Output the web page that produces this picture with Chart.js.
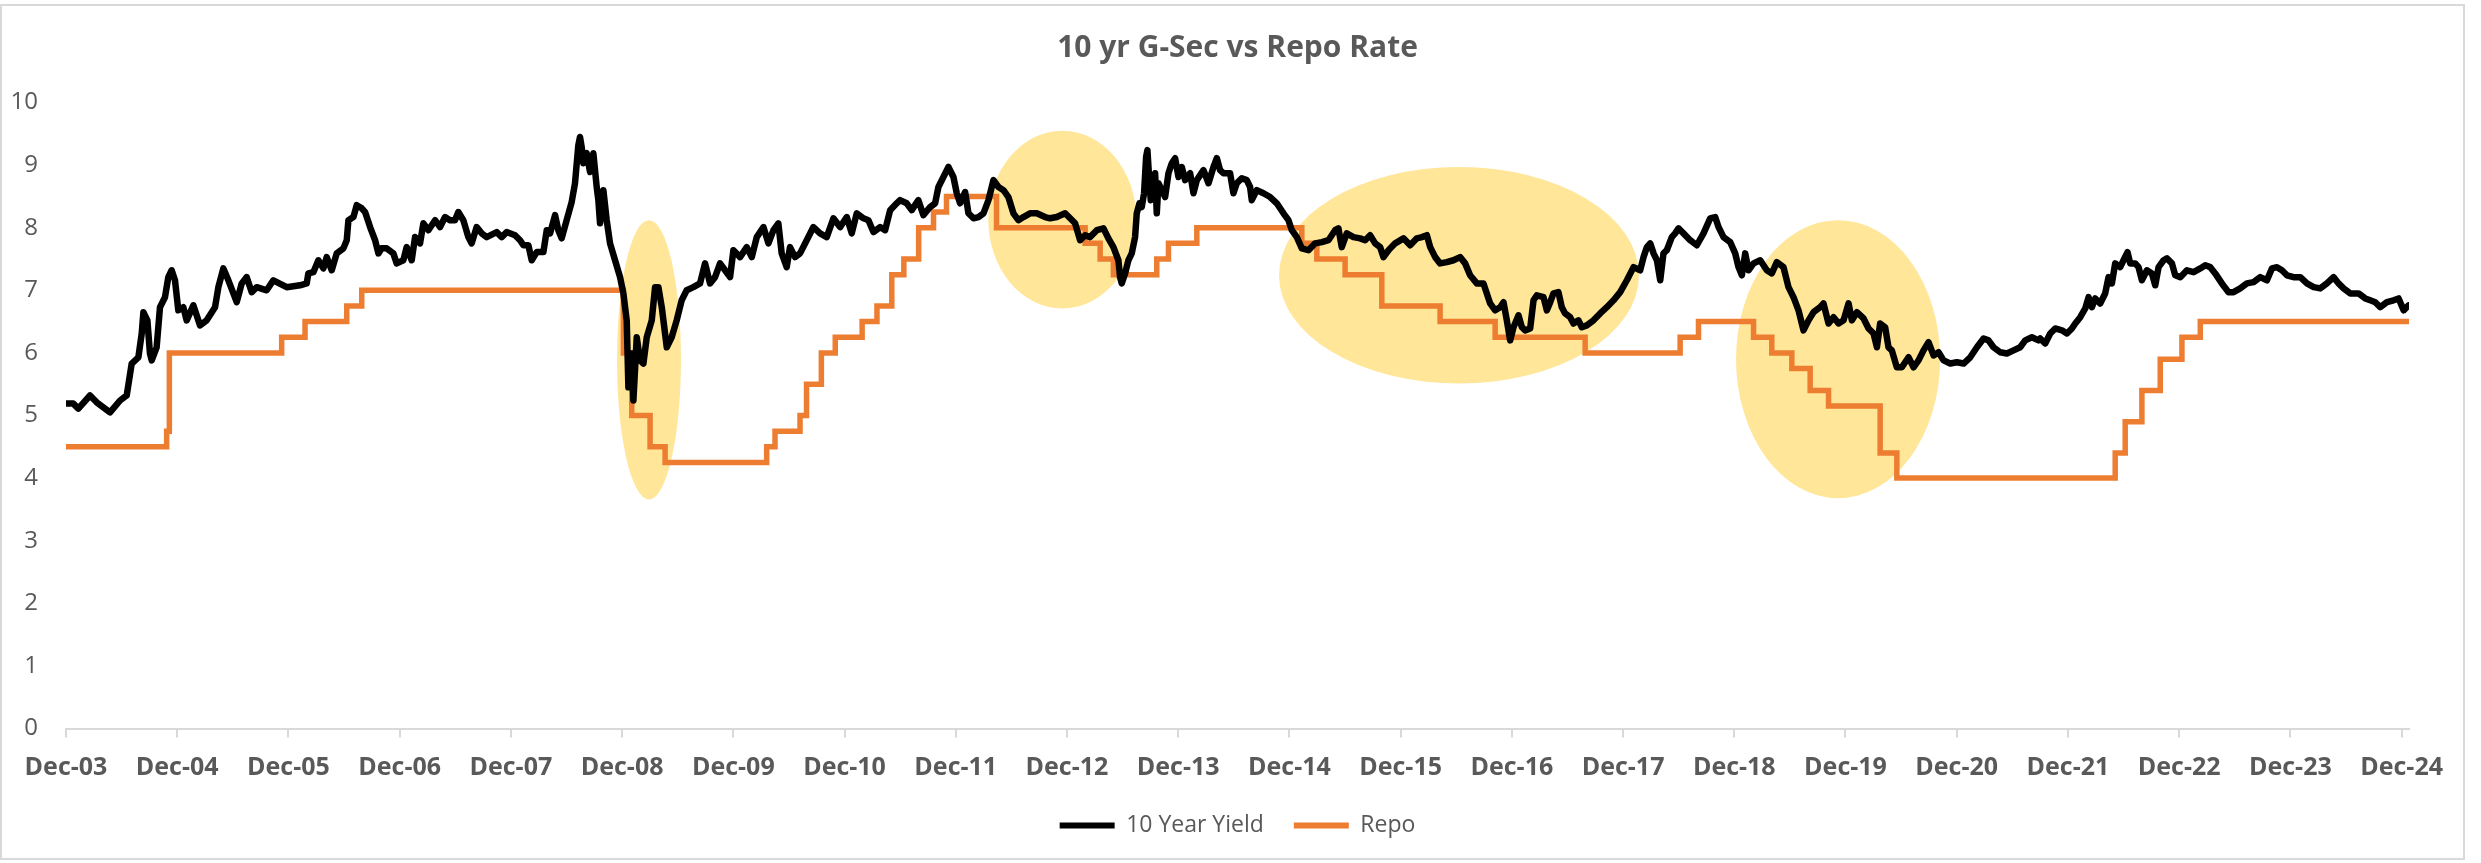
<!DOCTYPE html>
<html>
<head>
<meta charset="utf-8">
<script src="https://cdn.jsdelivr.net/npm/chart.js@4.4.1/dist/chart.umd.min.js"></script>
<style>
html,body{margin:0;padding:0;background:#fff;}
#wrap{position:relative;width:2481px;height:863px;overflow:hidden;}
canvas{position:absolute;left:0;top:0;}
#frame{position:absolute;left:0;top:4px;width:2465px;height:856px;border:2px solid #d9d9d9;box-sizing:border-box;pointer-events:none;}
</style>
</head>
<body>
<div id="wrap"><canvas id="c" width="2481" height="863"></canvas><div id="frame"></div></div>
<script>
// x values are months since Dec-03
const tickMonths = [0,12,24,36,48,60,72,84,96,108,120,132,144,156,168,180,192,204,216,228,240,252];
const tickLabels = ['Dec-03','Dec-04','Dec-05','Dec-06','Dec-07','Dec-08','Dec-09','Dec-10','Dec-11','Dec-12','Dec-13','Dec-14','Dec-15','Dec-16','Dec-17','Dec-18','Dec-19','Dec-20','Dec-21','Dec-22','Dec-23','Dec-24'];

const repoX = [0,10.86,11.15,23.27,25.79,30.29,31.91,60.14,61.04,63.02,64.64,75.6,76.5,79.2,79.9,81.5,83.0,85.9,87.5,89.1,90.4,92.0,93.6,95.0,100.4,109.96,111.58,113.01,117.69,118.95,122.01,133.34,134.96,138.01,141.97,148.26,154.2,163.91,174.16,176.14,182.08,184.05,186.21,188.19,190.17,195.74,197.54,221.1,222.18,223.98,225.96,228.3,230.28,252.8];
const repoY = [4.5,4.75,6.0,6.25,6.5,6.75,7.0,6.0,5.0,4.5,4.25,4.5,4.75,5.0,5.5,6.0,6.25,6.5,6.75,7.25,7.5,8.0,8.25,8.5,8.0,7.75,7.5,7.25,7.5,7.75,8.0,7.75,7.5,7.25,6.75,6.5,6.25,6.0,6.25,6.5,6.25,6.0,5.75,5.4,5.15,4.4,4.0,4.4,4.9,5.4,5.9,6.25,6.5,6.5];

const yieldX = [0,0.79,1.33,2.59,3.31,4.75,5.83,6.55,7.09,7.81,8.17,8.35,8.78,9.06,9.25,9.78,10.14,10.68,11.04,11.40,11.76,12.12,12.66,13.02,13.74,14.46,15.18,16.08,16.44,16.98,17.52,18.06,18.42,18.96,19.50,20.04,20.58,21.65,22.37,23.81,25.25,25.97,26.15,26.69,27.23,27.77,28.13,28.67,29.21,29.93,30.29,30.47,31.01,31.37,31.91,32.27,32.81,33.35,33.71,34.06,34.60,35.32,35.68,
36.40,36.76,37.30,37.66,38.20,38.56,39.10,39.82,40.36,40.90,41.43,41.97,42.33,42.87,43.41,43.77,44.31,44.85,45.39,46.47,47.01,47.55,48.45,48.99,49.35,49.89,50.25,50.79,51.51,51.87,52.23,52.77,53.12,53.48,54.02,54.56,54.92,55.28,55.46,55.64,55.82,56.18,56.54,56.90,57.26,57.44,57.62,57.98,58.34,58.70,59.24,59.78,60.14,60.50,60.68,61.04,61.22,61.58,61.94,62.30,62.66,63.20,63.56,63.92,64.28,64.82,65.35,65.89,66.43,66.97,67.69,68.41,68.95,69.49,70.03,
70.57,71.11,71.65,72.01,72.73,73.45,73.99,74.53,75.25,75.79,76.33,76.86,77.22,77.76,78.12,78.66,79.20,79.92,80.64,81.36,82.08,82.80,83.52,84.24,84.78,85.32,86.04,86.58,87.12,87.84,88.38,88.92,89.63,89.99,90.71,91.25,91.97,92.51,93.23,93.77,94.13,94.67,95.21,95.75,96.11,96.47,97.01,97.37,97.91,98.45,98.99,99.53,100.07,100.61,101.15,101.68,102.22,102.76,103.30,104.02,104.74,105.64,
106.18,106.90,107.80,108.34,108.88,109.42,109.96,110.50,111.22,111.94,112.47,113.01,113.55,113.73,113.91,114.27,114.63,114.99,115.35,115.53,115.82,116.07,116.32,116.54,116.68,116.86,117.04,117.26,117.51,117.69,117.87,118.23,118.59,118.95,119.31,119.67,120.03,120.39,120.75,121.29,121.65,122.01,122.73,123.27,123.81,124.17,124.52,124.88,125.60,125.96,126.32,126.86,127.40,127.76,127.94,128.48,129.20,129.92,130.64,131.36,131.90,132.26,132.80,133.34,134.06,134.78,135.50,136.21,136.93,137.29,137.65,138.19,138.91,139.63,140.17,140.71,141.25,
141.79,142.15,142.69,143.41,144.31,145.03,145.75,146.29,146.83,147.19,147.73,148.26,148.98,149.70,150.42,150.96,151.50,152.22,152.94,153.30,153.66,154.20,154.74,155.10,155.46,155.82,156.18,156.72,157.08,157.44,157.98,158.34,158.70,159.42,159.78,160.14,160.49,161.03,161.39,161.75,162.29,162.65,163.19,163.55,164.09,164.81,165.53,166.25,166.97,167.69,168.41,169.13,169.85,170.21,170.57,170.93,171.29,171.65,172.01,172.36,172.72,173.26,173.62,173.98,174.52,175.24,175.96,176.68,
177.40,177.94,178.30,178.84,179.56,180.10,180.46,180.82,181.18,181.54,182.08,182.80,183.51,184.05,184.59,185.31,185.85,186.39,186.93,187.47,188.01,188.55,189.27,189.63,190.17,190.71,191.25,191.79,192.33,192.69,193.23,193.95,194.49,195.03,195.39,195.74,196.28,196.64,197.00,197.54,198.08,198.80,199.34,199.88,200.42,200.96,201.50,202.04,202.58,203.30,204.02,204.74,205.46,206.18,206.90,207.43,207.97,208.69,209.41,210.13,210.85,211.39,212.11,212.83,
213.01,213.55,214.09,214.63,215.35,215.89,216.43,216.79,217.33,217.87,218.23,218.59,218.95,219.48,220.02,220.38,220.74,221.10,221.64,222.00,222.43,222.72,223.26,223.62,223.98,224.52,225.06,225.42,225.78,226.32,226.68,227.22,227.58,228.12,228.84,229.56,230.28,230.82,231.36,231.89,232.61,233.33,233.87,234.59,235.31,236.03,236.75,237.47,238.01,238.55,239.09,239.63,240.35,241.07,241.79,242.51,243.22,243.94,244.66,245.20,245.74,246.46,247.36,248.08,248.62,249.16,249.70,250.42,251.14,251.68,252.22,252.76];

const yieldY = [5.19,5.19,5.11,5.32,5.21,5.05,5.24,5.32,5.83,5.93,6.31,6.65,6.52,5.99,5.88,6.09,6.73,6.89,7.21,7.32,7.16,6.68,6.73,6.52,6.76,6.44,6.52,6.73,7.05,7.35,7.16,6.95,6.81,7.11,7.21,6.97,7.05,7.00,7.16,7.05,7.08,7.11,7.27,7.29,7.48,7.35,7.53,7.32,7.59,7.67,7.80,8.12,8.17,8.36,8.31,8.25,8.01,7.80,7.59,7.67,7.67,7.59,7.43,
7.48,7.69,7.48,7.85,7.75,8.07,7.96,8.12,8.01,8.17,8.12,8.12,8.25,8.12,7.85,7.75,8.01,7.91,7.85,7.93,7.85,7.93,7.88,7.80,7.72,7.72,7.48,7.61,7.61,7.96,7.91,8.20,7.96,7.83,8.12,8.41,8.71,9.32,9.45,9.29,9.03,9.19,8.89,9.19,8.65,8.44,8.07,8.60,8.12,7.75,7.48,7.21,6.95,6.52,5.45,5.99,5.24,6.25,5.88,5.83,6.25,6.52,7.05,7.05,6.73,6.09,6.25,6.52,6.84,7.00,7.05,7.11,7.43,7.11,7.21,
7.43,7.32,7.21,7.64,7.53,7.69,7.53,7.85,8.01,7.75,7.96,8.07,7.59,7.37,7.69,7.53,7.59,7.80,8.01,7.91,7.85,8.15,8.01,8.17,7.91,8.23,8.15,8.12,7.93,8.01,7.96,8.28,8.39,8.44,8.39,8.28,8.44,8.20,8.33,8.39,8.65,8.81,8.97,8.81,8.55,8.39,8.57,8.23,8.15,8.17,8.23,8.44,8.76,8.65,8.60,8.49,8.23,8.12,8.17,8.23,8.23,8.17,
8.15,8.17,8.23,8.15,8.07,7.80,7.88,7.85,7.96,7.99,7.83,7.69,7.48,7.21,7.11,7.27,7.48,7.59,7.85,8.23,8.39,8.33,8.55,9.13,9.24,8.81,8.44,8.55,8.87,8.23,8.71,8.60,8.49,8.87,9.03,9.11,8.81,8.97,8.76,8.87,8.55,8.76,8.92,8.71,8.97,9.11,8.92,8.87,8.87,8.55,8.71,8.79,8.76,8.65,8.44,8.60,8.55,8.49,8.39,8.23,8.12,7.96,7.85,7.67,7.64,7.75,7.77,7.80,7.96,7.99,7.69,7.91,7.85,7.83,7.80,7.88,7.75,
7.69,7.53,7.64,7.75,7.83,7.72,7.83,7.85,7.88,7.69,7.53,7.43,7.45,7.48,7.53,7.43,7.24,7.11,7.11,6.95,6.79,6.68,6.73,6.81,6.52,6.20,6.41,6.60,6.41,6.36,6.39,6.84,6.92,6.89,6.68,6.81,6.95,6.97,6.73,6.63,6.57,6.47,6.52,6.41,6.44,6.52,6.63,6.73,6.84,6.97,7.16,7.37,7.32,7.53,7.69,7.75,7.59,7.48,7.16,7.59,7.64,7.85,7.91,7.99,7.91,7.80,7.72,7.91,
8.15,8.17,8.01,7.85,7.77,7.59,7.37,7.24,7.59,7.32,7.43,7.48,7.32,7.27,7.45,7.37,7.05,6.89,6.68,6.36,6.52,6.65,6.73,6.79,6.47,6.57,6.47,6.52,6.79,6.52,6.65,6.55,6.39,6.31,6.09,6.47,6.41,6.09,6.04,5.77,5.77,5.93,5.77,5.88,6.04,6.17,5.96,6.01,5.88,5.83,5.85,5.83,5.93,6.09,6.23,6.20,6.09,6.01,5.99,6.04,6.09,6.20,6.25,6.20,
6.23,6.15,6.31,6.39,6.36,6.31,6.39,6.47,6.57,6.71,6.89,6.73,6.87,6.79,6.95,7.21,7.11,7.43,7.37,7.48,7.61,7.43,7.43,7.37,7.16,7.32,7.27,7.08,7.37,7.48,7.51,7.43,7.24,7.21,7.32,7.29,7.35,7.40,7.37,7.27,7.11,6.97,6.97,7.03,7.11,7.13,7.21,7.16,7.35,7.37,7.32,7.24,7.21,7.21,7.11,7.05,7.03,7.11,7.21,7.11,7.03,6.95,6.95,6.87,6.84,6.81,6.73,6.81,6.84,6.87,6.68,6.76];

// highlight ellipses (centre and radii in data units: months / percent)
const hlCenterX = [62.9, 107.5, 150.3, 191.2];
const hlCenterY = [5.89, 8.13, 7.24, 5.90];
const hlRadiusX = [3.45, 7.99, 19.42, 11.01];
const hlRadiusY = [2.23, 1.42, 1.73, 2.22];

const highlightPlugin = {
  id: 'highlights',
  beforeDatasetsDraw(chart) {
    const { ctx, scales: { x, y } } = chart;
    ctx.save();
    ctx.fillStyle = '#FFE699';
    hlCenterX.forEach((cx, i) => {
      const px = x.getPixelForValue(cx);
      const py = y.getPixelForValue(hlCenterY[i]);
      const rx = Math.abs(x.getPixelForValue(cx + hlRadiusX[i]) - px);
      const ry = Math.abs(y.getPixelForValue(hlCenterY[i] + hlRadiusY[i]) - py);
      ctx.beginPath();
      ctx.ellipse(px, py, rx, ry, 0, 0, Math.PI * 2);
      ctx.fill();
    });
    ctx.restore();
  }
};

const FONT = "'Open Sans', 'Liberation Sans', sans-serif";

new Chart(document.getElementById('c'), {
  type: 'line',
  data: {
    datasets: [
      {
        label: '10 Year Yield',
        data: yieldX.map((x, i) => ({ x: x, y: yieldY[i] })),
        borderColor: '#000000',
        backgroundColor: '#000000',
        borderWidth: 6.5,
        pointRadius: 0,
        tension: 0,
        borderJoinStyle: 'round',
        borderCapStyle: 'round'
      },
      {
        label: 'Repo',
        data: repoX.map((x, i) => ({ x: x, y: repoY[i] })),
        borderColor: '#ED7D31',
        backgroundColor: '#ED7D31',
        borderWidth: 5.5,
        pointRadius: 0,
        stepped: 'before',
        borderCapStyle: 'round'
      }
    ]
  },
  options: {
    responsive: false,
    animation: false,
    devicePixelRatio: 1,
    layout: { padding: { left: 0, right: 72, top: 0, bottom: 16 } },
    scales: {
      x: {
        type: 'linear',
        min: 0,
        max: 252.8,
        afterBuildTicks: s => { s.ticks = tickMonths.map(v => ({ value: v })); },
        afterFit: s => { s.height = 55.5; },
        ticks: {
          autoSkip: false, maxRotation: 0, minRotation: 0, padding: 15,
          color: '#595959',
          font: { family: FONT, size: 25, weight: 'bold' },
          callback: (v, i) => tickLabels[i]
        },
        grid: { drawOnChartArea: false, drawTicks: true, tickLength: 9, color: '#d9d9d9', lineWidth: 2 },
        border: { display: true, color: '#d9d9d9', width: 2 }
      },
      y: {
        min: 0,
        max: 10,
        afterFit: s => { s.width = 66; },
        ticks: { stepSize: 1, padding: 28, color: '#595959', font: { family: FONT, size: 24 } },
        grid: { display: false, drawTicks: false },
        border: { display: false }
      }
    },
    plugins: {
      title: {
        display: true,
        fullSize: false,
        text: '10 yr G-Sec vs Repo Rate',
        color: '#595959',
        font: { family: FONT, size: 30, weight: 'bold', lineHeight: 1.2 },
        padding: { top: 30, bottom: 36.5 }
      },
      legend: {
        position: 'bottom',
        fullSize: false,
        labels: {
          boxWidth: 55, boxHeight: 6, padding: 30,
          color: '#595959',
          font: { family: FONT, size: 23 },
          generateLabels: chart => Chart.defaults.plugins.legend.labels.generateLabels(chart).map(it => Object.assign(it, { lineWidth: 0 }))
        }
      },
      tooltip: { enabled: false }
    }
  },
  plugins: [highlightPlugin]
});
</script>
</body>
</html>
